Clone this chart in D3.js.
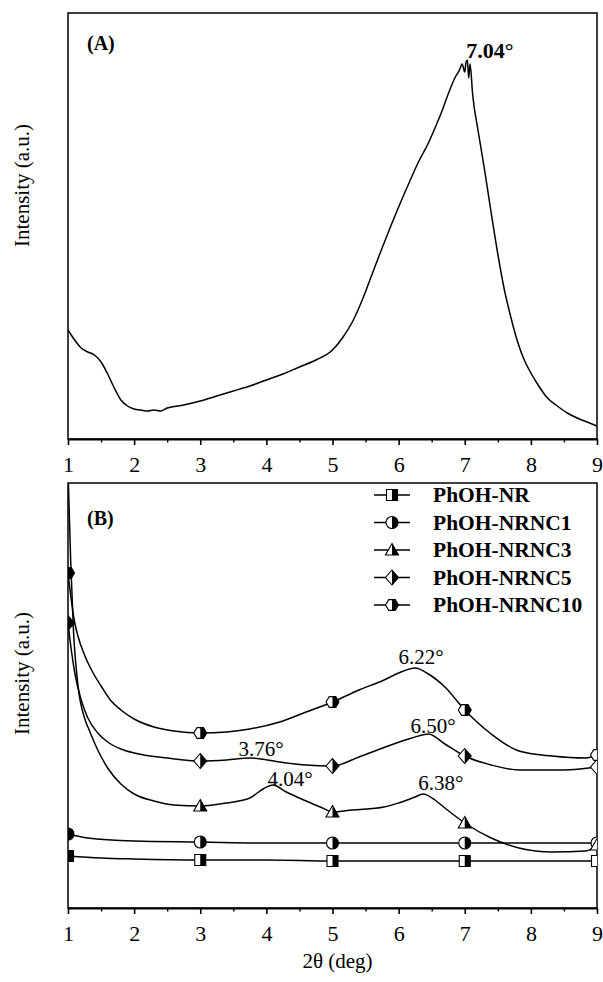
<!DOCTYPE html>
<html>
<head>
<meta charset="utf-8">
<script src="https://cdn.jsdelivr.net/npm/d3@7"></script>
<style>
  body { margin: 0; background: #fff; }
  text { font-family: 'Liberation Serif', 'Times New Roman', serif; fill: #000; }
</style>
</head>
<body>
<svg id="chart" width="603" height="982"></svg>
<script>
// 2theta ticks
const thetaTicks = [1, 2, 3, 4, 5, 6, 7, 8, 9]
const minorTicks = [1.5, 2.5, 3.5, 4.5, 5.5, 6.5, 7.5, 8.5]
const markerTheta = [1, 3, 5, 7, 9]

// (A) pattern, [2theta, intensity a.u.]
const patternA = [
  [1.0, 109], [1.1, 99], [1.2, 91], [1.3, 87], [1.4, 84], [1.5, 77], [1.6, 65], [1.7, 51],
  [1.8, 39], [1.9, 33], [2.0, 30], [2.1, 29], [2.2, 28], [2.3, 29], [2.4, 28], [2.5, 31],
  [2.75, 34], [3.0, 38], [3.25, 43], [3.5, 48], [3.75, 53], [4.0, 59], [4.25, 65], [4.5, 72],
  [4.75, 79], [5.0, 89], [5.15, 101], [5.3, 117], [5.45, 139], [5.6, 165], [5.75, 191],
  [5.9, 216], [6.0, 232], [6.15, 255], [6.3, 277], [6.45, 296], [6.55, 311], [6.65, 327],
  [6.75, 345], [6.85, 361], [6.92, 369], [6.96, 375], [7.0, 367], [7.02, 377], [7.04, 379],
  [7.06, 361], [7.08, 375], [7.12, 344], [7.2, 309], [7.3, 269], [7.4, 226], [7.5, 185],
  [7.6, 149], [7.7, 121], [7.8, 97], [7.9, 79], [8.0, 66], [8.1, 55], [8.25, 41], [8.4, 33],
  [8.55, 26], [8.7, 21], [8.85, 17], [9.0, 13]
]

// (B) patterns
const phohNR = [
  [1.0, 52], [1.5, 50], [2.0, 49], [3.0, 48], [4.0, 48], [5.0, 47], [6.0, 47], [7.0, 47],
  [8.0, 47], [9.0, 47]
]
const phohNRNC1 = [
  [1.0, 74], [1.3, 70], [2.0, 67], [3.0, 66], [4.0, 65], [5.0, 65], [6.0, 65], [7.0, 65],
  [8.0, 65], [9.0, 65]
]
const phohNRNC3 = [
  [1.0, 438], [1.04, 348], [1.08, 281], [1.15, 223], [1.25, 190], [1.32, 178], [1.45, 158],
  [1.6, 140], [1.8, 124], [2.0, 114], [2.3, 107], [2.6, 103], [3.0, 102], [3.4, 105],
  [3.75, 110], [3.95, 119], [4.1, 123], [4.3, 116], [4.6, 107], [4.85, 100], [5.0, 96],
  [5.3, 98], [5.78, 101], [6.0, 105], [6.25, 111], [6.37, 114], [6.55, 108], [6.7, 100],
  [7.0, 85], [7.4, 70], [7.82, 60], [8.32, 56], [8.83, 57], [9.0, 63]
]
const phohNRNC5 = [
  [1.0, 285], [1.05, 258], [1.1, 236], [1.2, 208], [1.3, 190], [1.45, 175], [1.6, 166],
  [1.8, 159], [2.0, 155], [2.5, 150], [3.0, 147], [3.4, 148], [3.76, 150], [4.2, 146],
  [4.6, 143], [5.0, 142], [5.4, 151], [5.8, 161], [6.2, 170], [6.45, 174], [6.7, 164],
  [7.0, 152], [7.4, 143], [7.82, 138], [8.5, 138], [9.0, 141]
]
const phohNRNC10 = [
  [1.0, 335], [1.05, 308], [1.1, 286], [1.15, 272], [1.25, 253], [1.38, 235], [1.5, 222],
  [1.64, 208], [1.8, 198], [2.0, 189], [2.3, 181], [2.6, 177], [3.0, 175], [3.4, 176],
  [3.75, 179], [4.2, 186], [4.6, 196], [5.0, 206], [5.4, 218], [5.78, 228], [6.0, 235],
  [6.25, 240], [6.45, 234], [6.7, 221], [7.0, 198], [7.4, 174], [7.82, 157], [8.32, 152],
  [8.83, 150], [9.0, 153]
]

const seriesNames = ['PhOH-NR', 'PhOH-NRNC1', 'PhOH-NRNC3', 'PhOH-NRNC5', 'PhOH-NRNC10']
const seriesData = [phohNR, phohNRNC1, phohNRNC3, phohNRNC5, phohNRNC10]

const peakA = [{ label: '7.04°', x: 7.38, y: 381 }]
const peaksB = [
  { label: '6.22°', x: 6.34, y: 244 },
  { label: '6.50°', x: 6.52, y: 175 },
  { label: '3.76°', x: 3.92, y: 152 },
  { label: '4.04°', x: 4.36, y: 122 },
  { label: '6.38°', x: 6.64, y: 118 }
]

const svg = d3.select('#chart')
const left = 68
const right = 597
const panelA = { top: 13, bottom: 439, max: 426, labelY: 50, titleY: 247 }
const panelB = { top: 483, bottom: 908, max: 425, labelY: 525, titleY: 735 }

const x = d3.scaleLinear().domain([1, 9]).range([left, right])
const yA = d3.scaleLinear().domain([0, panelA.max]).range([panelA.bottom, panelA.top])
const yB = d3.scaleLinear().domain([0, panelB.max]).range([panelB.bottom, panelB.top])

// marker shapes
const hex = d3.range(6).map(i => [6.5 * Math.cos(i * Math.PI / 3), 6.2 * Math.sin(i * Math.PI / 3)])
const shapes = [
  'M-5.5,-5.5H5.5V5.5H-5.5Z',
  'M-6,0A6,6 0 1,1 6,0A6,6 0 1,1 -6,0Z',
  'M0,-6.5L6.5,5H-6.5Z',
  'M0,-7.5L6.5,0L0,7.5L-6.5,0Z',
  'M' + hex.join('L') + 'Z'
]

const defs = svg.append('defs')
defs.append('clipPath').attr('id', 'clip-a')
  .append('rect').attr('x', left).attr('y', panelA.top)
  .attr('width', right - left).attr('height', panelA.bottom - panelA.top)
defs.append('clipPath').attr('id', 'clip-b')
  .append('rect').attr('x', left).attr('y', panelB.top)
  .attr('width', right - left).attr('height', panelB.bottom - panelB.top)
defs.append('clipPath').attr('id', 'right-half')
  .append('rect').attr('x', 0).attr('y', -10).attr('width', 10).attr('height', 20)

function drawMarker(g, shape) {
  g.append('path').attr('d', shape).attr('fill', '#fff').attr('stroke', '#000').attr('stroke-width', 1.1)
  g.append('path').attr('d', shape).attr('fill', '#000').attr('clip-path', 'url(#right-half)')
}

function drawFrame(panel, label) {
  const g = svg.append('g')
  g.append('rect')
    .attr('x', left).attr('y', panel.top)
    .attr('width', right - left).attr('height', panel.bottom - panel.top)
    .attr('fill', 'none').attr('stroke', '#000').attr('stroke-width', 1.5)

  const major = g.append('g')
    .attr('transform', 'translate(0,' + panel.bottom + ')')
    .call(d3.axisBottom(x).tickValues(thetaTicks).tickSize(6).tickSizeOuter(0).tickPadding(11).tickFormat(d3.format('d')))
  major.select('.domain').attr('stroke-width', 2)
  major.selectAll('line').attr('stroke-width', 1.6)
  major.selectAll('text').attr('font-size', 22).style('font-family', "'Liberation Serif', serif")

  const minor = g.append('g')
    .attr('transform', 'translate(0,' + panel.bottom + ')')
    .call(d3.axisBottom(x).tickValues(minorTicks).tickSize(3.5).tickSizeOuter(0).tickFormat(''))
  minor.select('.domain').remove()
  minor.selectAll('line').attr('stroke-width', 1.4)

  g.append('text')
    .text(label)
    .attr('x', 87).attr('y', panel.labelY)
    .attr('font-size', 20).attr('font-weight', 'bold')

  g.append('text')
    .text('Intensity (a.u.)')
    .attr('transform', 'translate(29,' + panel.titleY + ') rotate(-90)')
    .attr('text-anchor', 'start')
    .attr('font-size', 21)
}

// ---------- panel A ----------
drawFrame(panelA, '(A)')

const lineA = d3.line().curve(d3.curveMonotoneX).x(d => x(d[0])).y(d => yA(d[1]))
svg.append('path')
  .datum(patternA)
  .attr('clip-path', 'url(#clip-a)')
  .attr('d', lineA)
  .attr('fill', 'none').attr('stroke', '#000').attr('stroke-width', 1.5)

svg.selectAll('.peak-a')
  .data(peakA)
  .enter()
  .append('text')
  .attr('class', 'peak-a')
  .text(d => d.label)
  .attr('x', d => x(d.x)).attr('y', d => yA(d.y))
  .attr('text-anchor', 'middle')
  .attr('font-size', 22).attr('font-weight', 'bold')

// ---------- panel B ----------
drawFrame(panelB, '(B)')

const lineB = d3.line().curve(d3.curveMonotoneX).x(d => x(d[0])).y(d => yB(d[1]))
const plotB = svg.append('g').attr('clip-path', 'url(#clip-b)')

seriesData.forEach((data, i) => {
  plotB.append('path')
    .datum(data)
    .attr('d', lineB)
    .attr('fill', 'none').attr('stroke', '#000').attr('stroke-width', 1.5)

  const pts = data.filter(d => markerTheta.includes(d[0]))
  plotB.selectAll('.marker-' + i)
    .data(pts)
    .enter()
    .append('g')
    .attr('class', 'marker-' + i)
    .attr('transform', d => 'translate(' + x(d[0]) + ',' + yB(d[1]) + ')')
    .each(function() {
      drawMarker(d3.select(this), shapes[i])
    })
})

svg.selectAll('.peak-b')
  .data(peaksB)
  .enter()
  .append('text')
  .attr('class', 'peak-b')
  .text(d => d.label)
  .attr('x', d => x(d.x)).attr('y', d => yB(d.y))
  .attr('text-anchor', 'middle')
  .attr('font-size', 21)

// legend
const legend = svg.append('g').attr('transform', 'translate(374,495)')
seriesNames.forEach((name, i) => {
  const row = legend.append('g').attr('transform', 'translate(0,' + i * 27.5 + ')')
  row.append('line')
    .attr('x1', 0).attr('x2', 36).attr('y1', 0).attr('y2', 0)
    .attr('stroke', '#000').attr('stroke-width', 1.5)
  drawMarker(row.append('g').attr('transform', 'translate(18,0)'), shapes[i])
  row.append('text')
    .text(name)
    .attr('x', 59).attr('y', 7)
    .attr('font-size', 21.5).attr('font-weight', 'bold')
})

svg.append('text')
  .text('2θ (deg)')
  .attr('x', (left + right) / 2 + 5).attr('y', 968)
  .attr('text-anchor', 'middle')
  .attr('font-size', 21)
</script>
</body>
</html>
